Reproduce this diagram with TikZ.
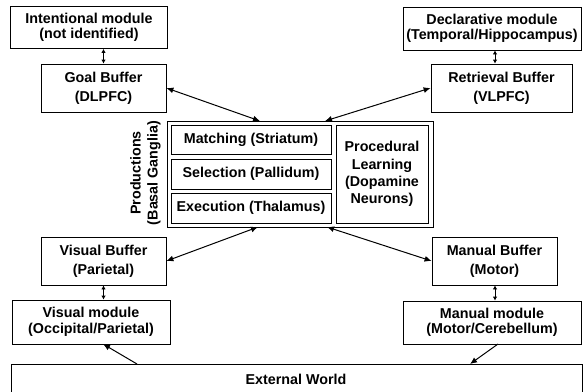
\documentclass[tikz,border=0pt]{standalone}
\usepackage{fontspec}
\setmainfont{Liberation Sans}
\usetikzlibrary{arrows.meta,calc}
\begin{document}
\begin{tikzpicture}[x=1pt,y=-1pt,
  box/.style={draw,line width=0.8pt,inner sep=0pt,align=center,
    font=\fontsize{14.3}{15.5}\selectfont\bfseries},
  bufbox/.style={box,font=\fontsize{14.3}{19}\selectfont\bfseries},
  dbl/.style={line width=1pt,{Latex[length=7pt,width=6pt]}-{Latex[length=7pt,width=6pt]}},
  sdbl/.style={line width=1pt,{Latex[length=4pt,width=4.5pt]}-{Latex[length=4pt,width=4.5pt]}},
  one/.style={line width=1pt,-{Latex[length=7pt,width=6pt]}}]
\useasboundingbox (0,0) rectangle (583,391);
% top modules
\node[box,minimum width=157,minimum height=42] (int) at (89,27.5) {Intentional module\\(not identified)};
\node[box,minimum width=178,minimum height=43] (dec) at (492,28.5) {Declarative module\\(Temporal/Hippocampus)};
\node[bufbox,minimum width=125,minimum height=48] (goal) at (103.5,88) {Goal Buffer\\(DLPFC)};
\node[bufbox,minimum width=141,minimum height=48] (ret) at (501.5,88) {Retrieval Buffer\\(VLPFC)};
% productions
\node[box,minimum width=266,minimum height=106] (prod) at (300,174) {};
\node[box,minimum width=160,minimum height=29] (match) at (251,139.5) {Matching (Striatum)};
\node[box,minimum width=160,minimum height=30] (sel) at (251,174) {Selection (Pallidum)};
\node[box,minimum width=160,minimum height=30] (exe) at (251,208) {Execution (Thalamus)};
\node[box,font=\fontsize{14.3}{17.2}\selectfont\bfseries,minimum width=92,minimum height=98] (proc) at (382,174) {Procedural\\Learning\\(Dopamine\\Neurons)};
\node[align=center,rotate=90,inner sep=0pt,font=\fontsize{14.3}{17}\selectfont\bfseries] (plab) at (145.5,173) {Productions\\(Basal Ganglia)};
% bottom
\node[bufbox,minimum width=125,minimum height=48] (vbuf) at (103.5,261) {Visual Buffer\\(Parietal)};
\node[bufbox,minimum width=125,minimum height=48] (mbuf) at (494.5,261) {Manual Buffer\\(Motor)};
\node[box,minimum width=158,minimum height=44] (vmod) at (91,322) {Visual module\\(Occipital/Parietal)};
\node[box,minimum width=178,minimum height=43] (mmod) at (492,322.5) {Manual module\\(Motor/Cerebellum)};
\node[draw,line width=0.8pt,minimum width=571,minimum height=40,inner sep=0pt] (ext) at (296.5,384) {};
\node[font=\fontsize{14.3}{15.5}\selectfont\bfseries] (extlab) at (296,379) {External World};
% connection points
\coordinate (pgt) at (260,121);
\coordinate (prt) at (325,121);
\coordinate (pvb) at (258,227);
\coordinate (pmb) at (327,227);
\coordinate (extv) at (137,364);
\coordinate (extm) at (470,364);
\coordinate (vmt) at (103,344);
\coordinate (mmt) at (498,344);
% arrows
\draw[sdbl] (int.south -| goal.north) -- (goal.north);
\draw[sdbl] (dec.south -| 495,0) coordinate (dA) -- (dA |- ret.north);
\draw[sdbl] (vbuf.south) -- (vbuf.south |- vmod.north);
\draw[sdbl] (mbuf.south) ++(0.5,0) coordinate (mA) -- (mA |- mmod.north);
\draw[dbl] (goal.east) -- (pgt);
\draw[dbl] (ret.west) -- (prt);
\draw[dbl] (vbuf.east) -- (pvb);
\draw[dbl] (mbuf.west) -- (pmb);
\draw[one] (extv) -- (vmt);
\draw[one] (mmt) -- (extm);
\end{tikzpicture}
\end{document}
